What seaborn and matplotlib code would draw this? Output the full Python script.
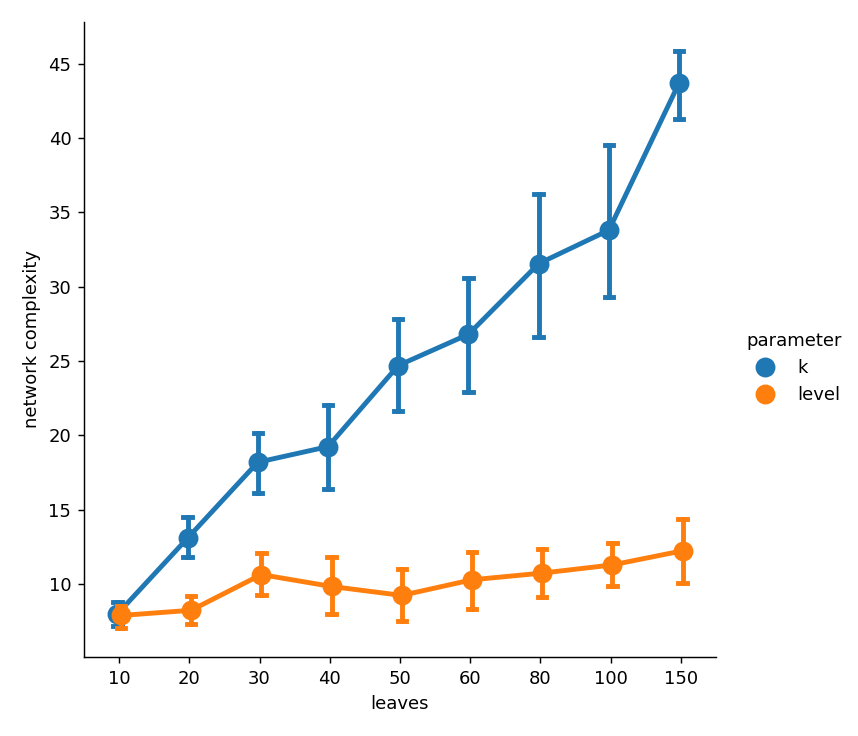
import pandas as pd
import seaborn as sns
import matplotlib.pyplot as plt

leaves = [10, 20, 30, 40, 50, 60, 80, 100, 150]

# k: point value and error bar ends
k_mid = [8.0, 13.1, 18.2, 19.25, 24.7, 26.8, 31.55, 33.8, 43.7]
k_lo = [7.2, 11.85, 16.1, 16.4, 21.65, 22.95, 26.65, 29.3, 41.3]
k_hi = [8.8, 14.5, 20.15, 22.05, 27.85, 30.6, 36.2, 39.5, 45.85]

# level
lv_mid = [7.9, 8.25, 10.65, 9.85, 9.25, 10.3, 10.75, 11.3, 12.25]
lv_lo = [7.05, 7.35, 9.3, 8.0, 7.5, 8.35, 9.15, 9.9, 10.1]
lv_hi = [8.55, 9.2, 12.1, 11.85, 11.05, 12.15, 12.35, 12.8, 14.4]

rows = []
for name, lo, mid, hi in [('k', k_lo, k_mid, k_hi), ('level', lv_lo, lv_mid, lv_hi)]:
    for i, lf in enumerate(leaves):
        for v in (lo[i], mid[i], hi[i]):
            rows.append({'leaves': lf, 'parameter': name, 'network complexity': v})
df = pd.DataFrame(rows)

# median = middle value, 100% interval = error bar ends
g = sns.catplot(data=df, x='leaves', y='network complexity', hue='parameter',
                kind='point', estimator='median', errorbar=('pi', 100),
                capsize=.12, dodge=True, height=5, markersize=9)

# legend shows only the dots
for h in g.legend.legend_handles:
    h.set_linestyle('')
    h.set_markersize(9)

g.figure.set_size_inches(858 / 130, 736 / 130)
g.figure.subplots_adjust(left=84 / 858, right=716 / 858, bottom=1 - 657 / 736, top=1 - 22 / 736)

plt.savefig('out.png', dpi=130)
